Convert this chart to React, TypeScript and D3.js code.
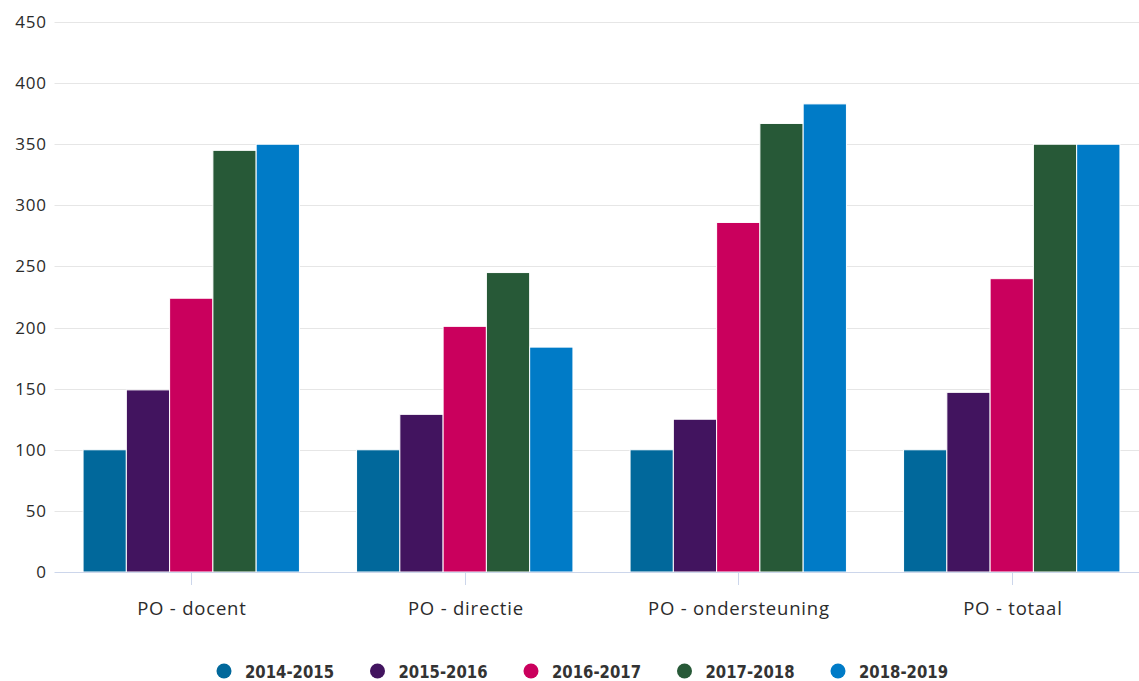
import React from "react";
import * as d3 from "d3";

const categories = ["PO - docent", "PO - directie", "PO - ondersteuning", "PO - totaal"];
const seriesNames = ["2014-2015", "2015-2016", "2016-2017", "2017-2018", "2018-2019"];
const seriesColors = ["#01689b", "#42145f", "#ca005d", "#275937", "#007bc7"];
const s2014 = [100, 100, 100, 100];
const s2015 = [149, 129, 125, 147];
const s2016 = [224, 201, 286, 240];
const s2017 = [345, 245, 367, 350];
const s2018 = [350, 184, 383, 350];
const seriesValues = [s2014, s2015, s2016, s2017, s2018];
const yTicks = [0, 50, 100, 150, 200, 250, 300, 350, 400, 450];

const W = 1139;
const H = 681;
const left = 54.5;
const right = 1148.5;
const top = 22;
const bottom = 572;

export default function App() {
  const x0 = d3.scaleBand<string>().domain(categories).range([left, right]).padding(0);
  const x1 = d3
    .scaleBand<string>()
    .domain(seriesNames)
    .range([0, x0.bandwidth()])
    .paddingInner(0)
    .paddingOuter(0.66);
  const y = d3.scaleLinear().domain([0, 450]).range([bottom, top]);
  const font = "'Open Sans', 'Noto Sans', sans-serif";
  const legendFont = "'DejaVu Sans Condensed', 'Liberation Sans Narrow', sans-serif";

  return (
    <svg
      width={W}
      height={H}
      style={{ position: "absolute", left: 0, top: 0, background: "#fff" }}
    >
      <g>
        {yTicks.map((t) =>
          t === 0 ? null : (
            <line
              key={"g" + t}
              x1={left}
              x2={right}
              y1={Math.round(y(t)) + 0.5}
              y2={Math.round(y(t)) + 0.5}
              stroke="#e6e6e6"
              strokeWidth={1}
            />
          )
        )}
      </g>
      <g>
        {yTicks.map((t) => (
          <text
            key={"yl" + t}
            x={46.8}
            y={y(t) + 6}
            textAnchor="end"
            fontFamily={font}
            fontSize={17}
            letterSpacing={0.8}
            fill="#2b2b2b"
          >
            {t}
          </text>
        ))}
      </g>
      <g>
        {categories.map((c, ci) =>
          seriesNames.map((s, si) => {
            const v = seriesValues[si][ci];
            const bx = (x0(c) as number) + (x1(s) as number);
            return (
              <rect
                key={c + s}
                x={bx}
                y={y(v)}
                width={x1.bandwidth()}
                height={bottom - y(v)}
                fill={seriesColors[si]}
                stroke="#ffffff"
                strokeWidth={1}
              />
            );
          })
        )}
      </g>
      <line x1={left} x2={right} y1={bottom + 0.5} y2={bottom + 0.5} stroke="#ccd6eb" strokeWidth={1} />
      <g>
        {categories.map((c) => {
          const cx = Math.round((x0(c) as number) + x0.bandwidth() / 2) + 0.5;
          return (
            <g key={"xt" + c}>
              <line x1={cx} x2={cx} y1={bottom} y2={bottom + 13} stroke="#ccd6eb" strokeWidth={1} />
              <text
                x={cx + 0.4}
                y={615}
                textAnchor="middle"
                fontFamily={font}
                fontSize={18.5}
                letterSpacing={0.8}
                fill="#2b2b2b"
              >
                {c}
              </text>
            </g>
          );
        })}
      </g>
      <g>
        {seriesNames.map((s, i) => {
          const cx = 224 + i * 153.5;
          return (
            <g key={"lg" + s}>
              <circle cx={cx} cy={671} r={7.5} fill={seriesColors[i]} />
              <text
                x={cx + 21}
                y={677.5}
                fontFamily={legendFont}
                fontSize={17}
                fontWeight="bold"
                textLength={89}
                lengthAdjust="spacingAndGlyphs"
                fill="#333333"
              >
                {s}
              </text>
            </g>
          );
        })}
      </g>
    </svg>
  );
}
